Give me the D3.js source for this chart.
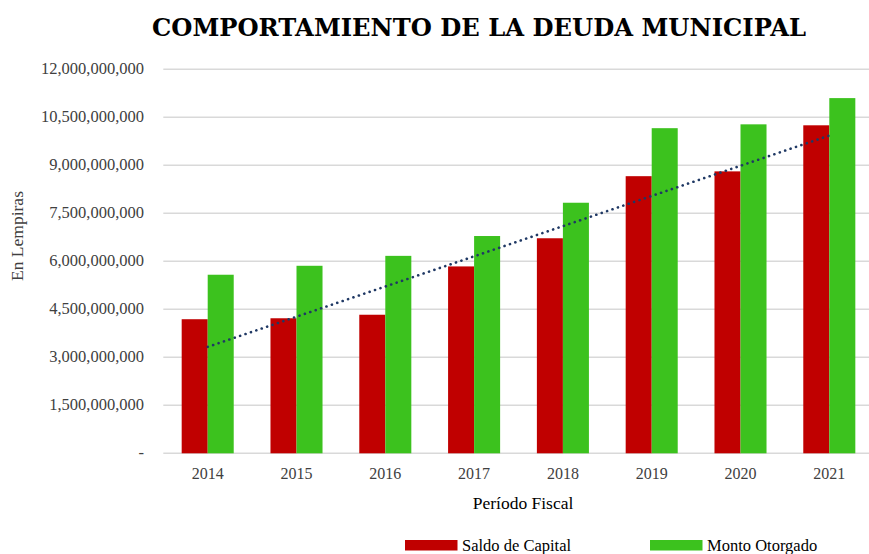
<!DOCTYPE html>
<html>
<head>
<meta charset="utf-8">
<script src="https://cdn.jsdelivr.net/npm/d3@7.9.0/dist/d3.min.js"></script>
<style>
  html, body { margin: 0; padding: 0; background: #fff; }
  svg { display: block; font-family: "Liberation Serif", "Times New Roman", "DejaVu Serif", serif; }
</style>
</head>
<body>
<svg id="chart" width="869" height="554"></svg>
<script>
// ---- data ----
const years = ["2014", "2015", "2016", "2017", "2018", "2019", "2020", "2021"];
const saldoCapital = [4190000000, 4220000000, 4330000000, 5840000000, 6720000000, 8660000000, 8810000000, 10250000000];
const montoOtorgado = [5580000000, 5860000000, 6170000000, 6790000000, 7830000000, 10160000000, 10280000000, 11100000000];
const yTicks = [0, 1500000000, 3000000000, 4500000000, 6000000000, 7500000000, 9000000000, 10500000000, 12000000000];
const seriesNames = ["Saldo de Capital", "Monto Otorgado"];
const seriesColors = ["#C00000", "#3CC21E"];

const svg = d3.select("#chart");
const margin = { left: 163.3, right: 873.7, top: 69.3, bottom: 453.3 };

const x = d3.scaleBand().domain(years).range([margin.left, margin.right]).paddingInner(0.414).paddingOuter(0.207);
const xs = d3.scaleBand().domain([0, 1]).range([0, x.bandwidth()]);
const y = d3.scaleLinear().domain([0, 12000000000]).range([margin.bottom, margin.top]);

// title
svg.append("text")
  .attr("x", 479).attr("y", 36)
  .attr("text-anchor", "middle")
  .style("font-family", "'DejaVu Serif', serif")
  .style("font-weight", "700")
  .attr("font-size", 25).attr("fill", "#000")
  .attr("textLength", 654).attr("lengthAdjust", "spacingAndGlyphs")
  .text("COMPORTAMIENTO DE LA DEUDA MUNICIPAL");

// gridlines
svg.append("g")
  .selectAll("line").data(yTicks).join("line")
  .attr("x1", margin.left).attr("x2", margin.right)
  .attr("y1", d => y(d)).attr("y2", d => y(d))
  .attr("stroke", "#D9D9D9").attr("stroke-width", 1.5);

// y axis labels
const fmt = d3.format(",");
svg.append("g")
  .selectAll("text").data(yTicks).join("text")
  .attr("x", 144).attr("y", d => y(d) + 5)
  .attr("text-anchor", "end")
  .attr("font-size", 16.5).attr("fill", "#404040")
  .text(d => d === 0 ? "-" : fmt(d));

// bars
const series = [saldoCapital, montoOtorgado];
series.forEach((vals, i) => {
  svg.append("g")
    .selectAll("rect").data(years).join("rect")
    .attr("x", d => x(d) + xs(i))
    .attr("width", xs.bandwidth())
    .attr("y", (d, j) => y(vals[j]))
    .attr("height", (d, j) => y(0) - y(vals[j]))
    .attr("fill", seriesColors[i]);
});

// linear trendline of Saldo de Capital
const n = years.length;
const idx = d3.range(n);
const mx = d3.mean(idx), my = d3.mean(saldoCapital);
const slope = d3.sum(idx, k => (k - mx) * (saldoCapital[k] - my)) / d3.sum(idx, k => (k - mx) ** 2);
const icept = my - slope * mx;
const cx = d => x(d) + x.bandwidth() / 2;
svg.append("line")
  .attr("x1", cx(years[0])).attr("y1", y(icept))
  .attr("x2", cx(years[n - 1])).attr("y2", y(icept + slope * (n - 1)))
  .attr("stroke", "#1F3864").attr("stroke-width", 2.6)
  .attr("stroke-linecap", "round").attr("stroke-dasharray", "0.1 5.6");

// x axis labels
svg.append("g")
  .selectAll("text").data(years).join("text")
  .attr("x", d => cx(d)).attr("y", 479)
  .attr("text-anchor", "middle")
  .attr("font-size", 16).attr("fill", "#404040")
  .text(d => d);

// axis titles
svg.append("text")
  .attr("x", 523).attr("y", 509)
  .attr("text-anchor", "middle")
  .attr("font-size", 17.5).attr("fill", "#000")
  .text("Período Fiscal");

svg.append("text")
  .attr("transform", "translate(23,236) rotate(-90)")
  .attr("text-anchor", "middle")
  .attr("font-size", 17.5).attr("fill", "#404040")
  .text("En Lempiras");

// legend
const legendX = [405, 650];
const lg = svg.append("g").selectAll("g").data(seriesNames).join("g")
  .attr("transform", (d, i) => `translate(${legendX[i]},540)`);
lg.append("rect").attr("width", 52.5).attr("height", 10.5)
  .attr("fill", (d, i) => seriesColors[i]);
lg.append("text").attr("x", 57).attr("y", 10.5)
  .attr("font-size", 16.5).attr("fill", "#000")
  .text(d => d);
</script>
</body>
</html>
